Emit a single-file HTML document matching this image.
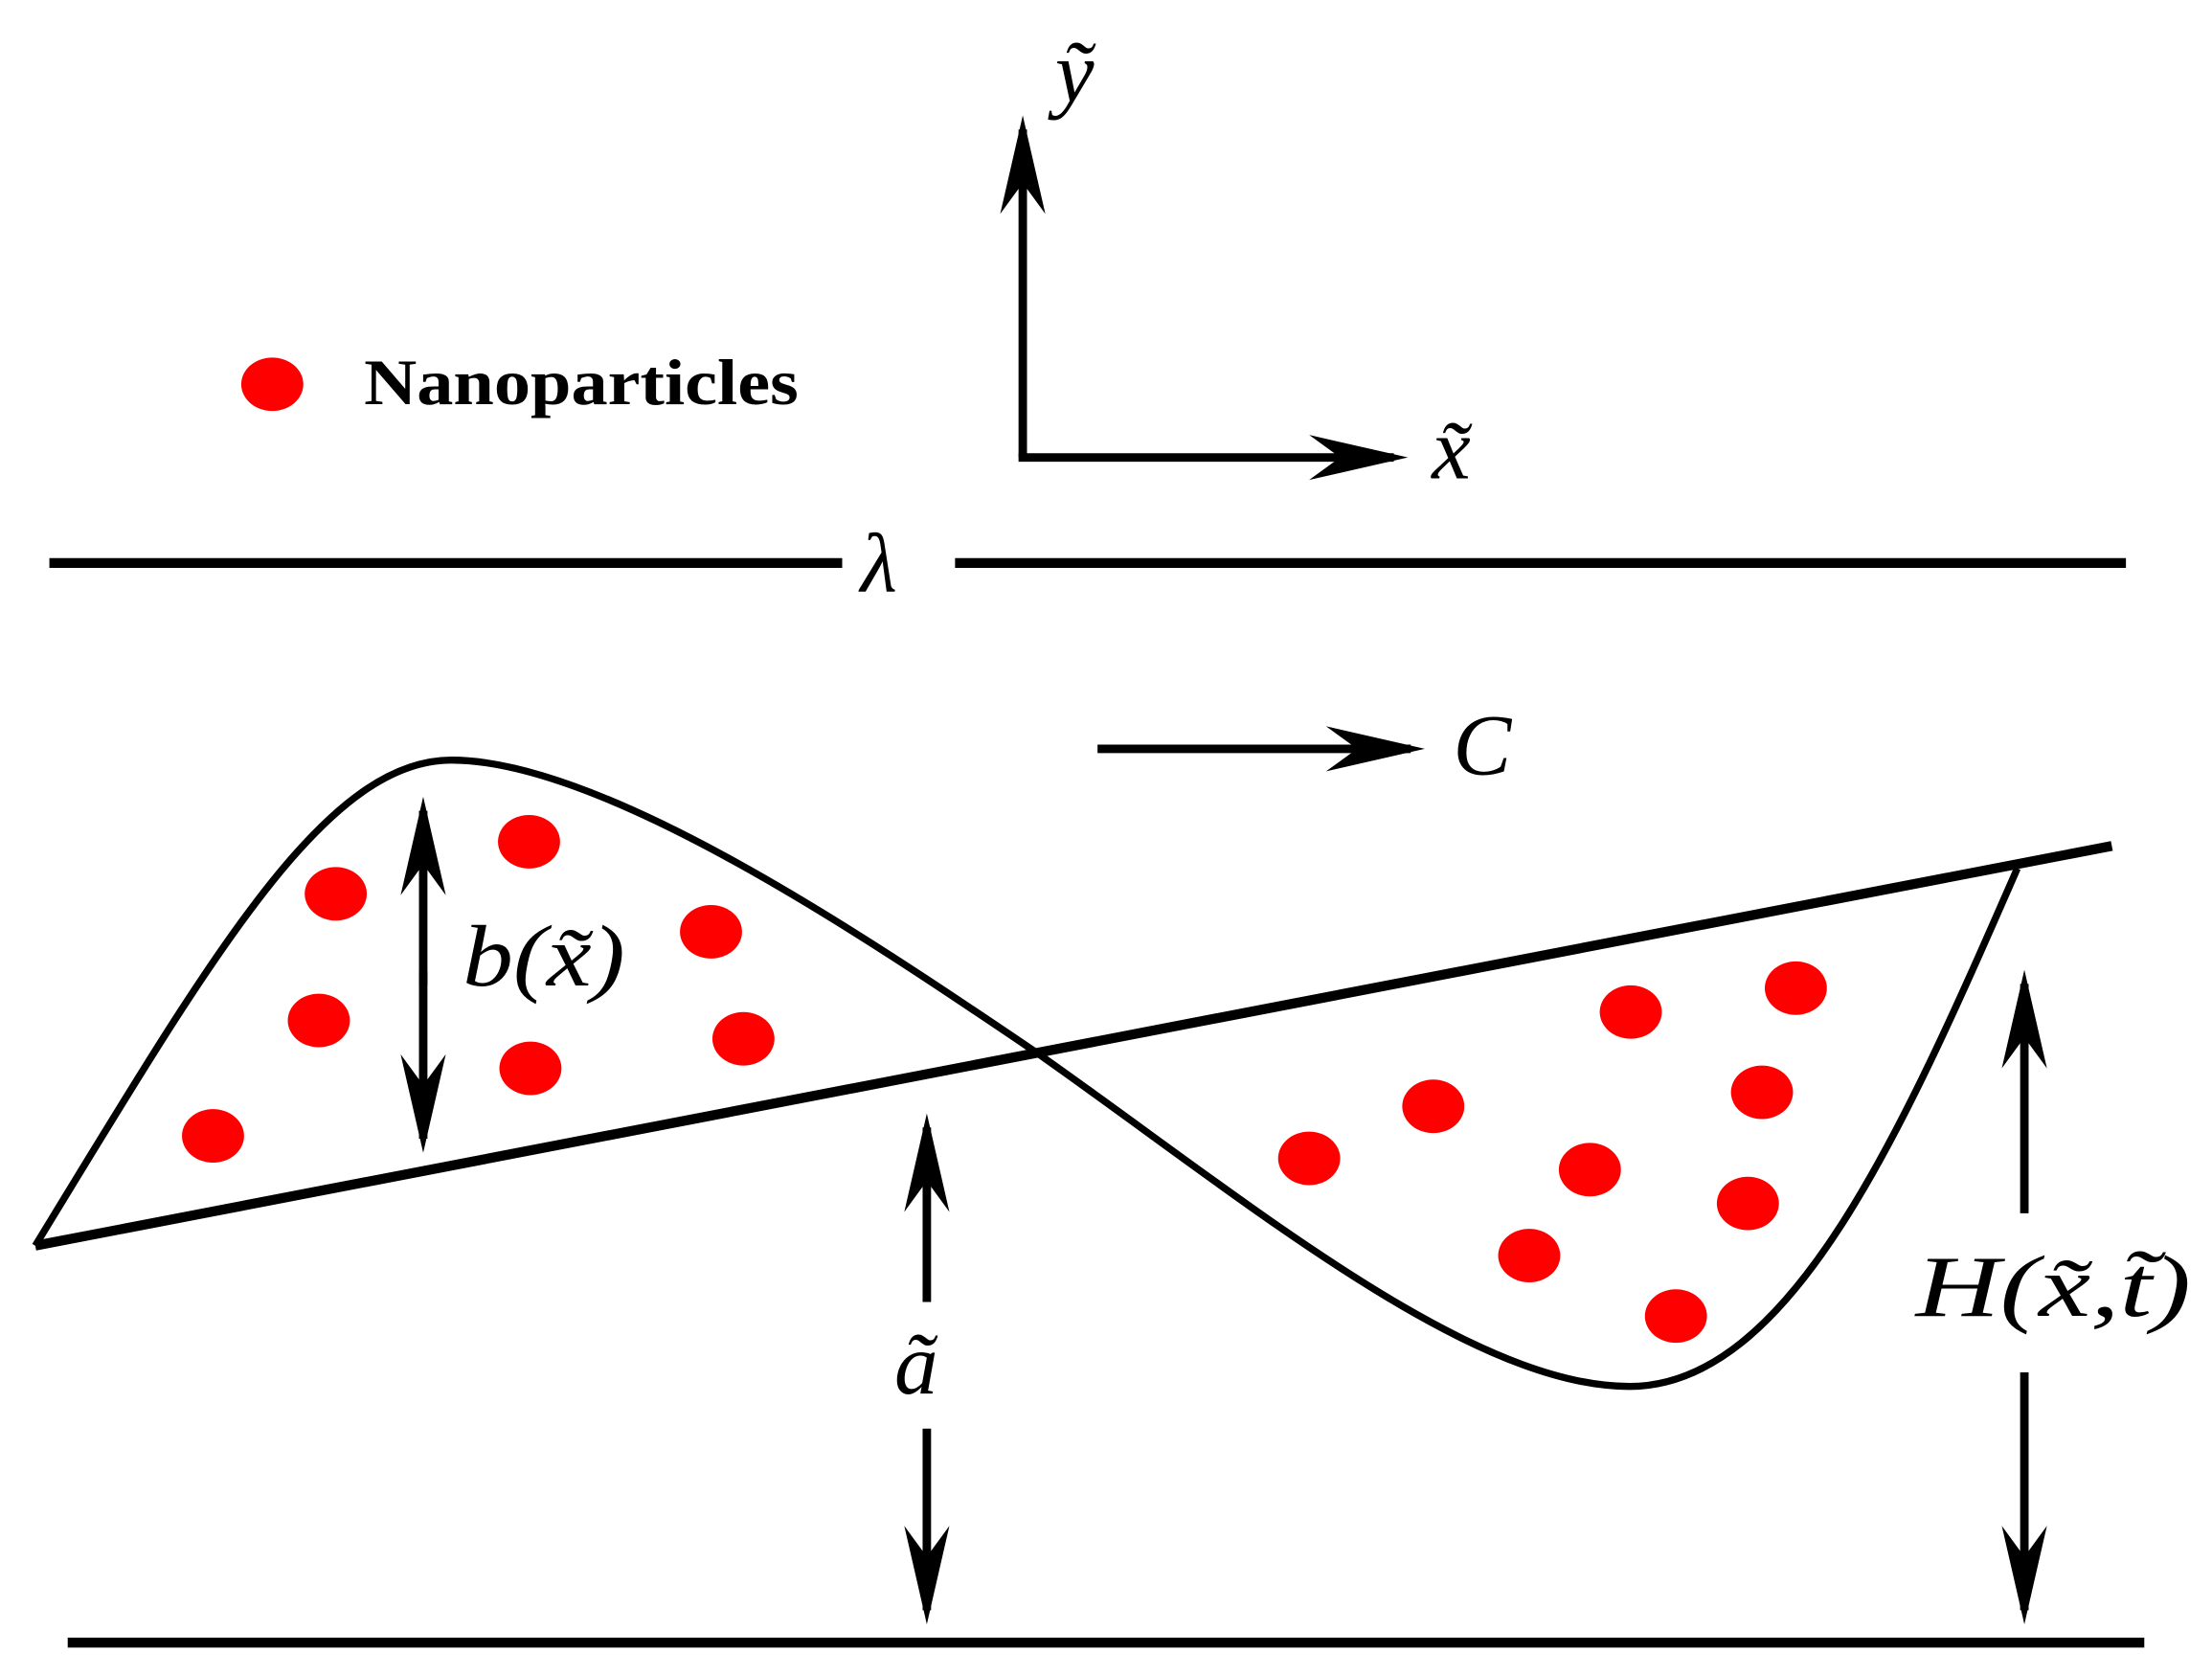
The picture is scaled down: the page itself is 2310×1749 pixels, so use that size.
<!DOCTYPE html>
<html><head><meta charset="utf-8"><style>html,body{margin:0;padding:0;background:#fff}svg{display:block}</style></head>
<body>
<svg width="2310" height="1749" viewBox="0 0 1568 1190" preserveAspectRatio="none" xmlns="http://www.w3.org/2000/svg">
<defs>
<marker id="ahb" viewBox="0 0 70 36" refX="60" refY="18" markerWidth="70" markerHeight="36" markerUnits="userSpaceOnUse" orient="auto">
<path d="M0,2 L70,18 L0,34 L22,18 Z" fill="#000"/>
</marker>
</defs>
<g stroke="#000" fill="none">
<line x1="725" y1="325" x2="725" y2="92" stroke-width="6" marker-end="url(#ahb)"/>
<line x1="722" y1="325" x2="988" y2="325" stroke-width="6" marker-end="url(#ahb)"/>
<line x1="35" y1="400" x2="597" y2="400" stroke-width="7"/>
<line x1="677" y1="400" x2="1507" y2="400" stroke-width="7"/>
<line x1="778" y1="532" x2="1000" y2="532" stroke-width="6" marker-end="url(#ahb)"/>
<path d="M25,885 C150,680 230,540 320,540 C430,540 620,670 735,748 C880,850 1040,985 1155,985 C1270,985 1350,800 1430,617" stroke-width="5"/>
<line x1="25" y1="885" x2="1497" y2="601" stroke-width="7"/>
<line x1="48" y1="1167" x2="1520" y2="1167" stroke-width="7"/>
<line x1="300" y1="700" x2="300" y2="576" stroke-width="6" marker-end="url(#ahb)"/>
<line x1="300" y1="690" x2="300" y2="809" stroke-width="6" marker-end="url(#ahb)"/>
<line x1="657" y1="925" x2="657" y2="801" stroke-width="6" marker-end="url(#ahb)"/>
<line x1="657" y1="1015" x2="657" y2="1144" stroke-width="6" marker-end="url(#ahb)"/>
<line x1="1435" y1="862" x2="1435" y2="699" stroke-width="6" marker-end="url(#ahb)"/>
<line x1="1435" y1="975" x2="1435" y2="1144" stroke-width="6" marker-end="url(#ahb)"/>
</g>
<g fill="#f00">
<ellipse cx="193" cy="273" rx="22" ry="19"/>
<ellipse cx="238" cy="635" rx="22" ry="19"/><ellipse cx="375" cy="598" rx="22" ry="19"/><ellipse cx="504" cy="662" rx="22" ry="19"/>
<ellipse cx="226" cy="725" rx="22" ry="19"/><ellipse cx="376" cy="759" rx="22" ry="19"/><ellipse cx="527" cy="738" rx="22" ry="19"/>
<ellipse cx="151" cy="807" rx="22" ry="19"/>
<ellipse cx="928" cy="823" rx="22" ry="19"/><ellipse cx="1016" cy="786" rx="22" ry="19"/><ellipse cx="1156" cy="719" rx="22" ry="19"/>
<ellipse cx="1273" cy="702" rx="22" ry="19"/><ellipse cx="1249" cy="776" rx="22" ry="19"/><ellipse cx="1127" cy="831" rx="22" ry="19"/>
<ellipse cx="1239" cy="855" rx="22" ry="19"/><ellipse cx="1084" cy="892" rx="22" ry="19"/><ellipse cx="1188" cy="935" rx="22" ry="19"/>
</g>
<g font-family="Liberation Serif, serif" fill="#000">
<text x="258" y="287" font-size="46" font-weight="bold" textLength="308" lengthAdjust="spacingAndGlyphs">Nanoparticles</text>
<text x="748" y="72" font-size="62" font-style="italic">ỹ</text>
<text x="1015" y="340" font-size="62" font-style="italic">x̃</text>
<text x="610" y="420" font-size="60" font-style="italic">λ</text>
<text x="1030" y="550" font-size="62" font-style="italic">C</text>
<text x="328" y="700" font-size="62" font-style="italic" textLength="115" lengthAdjust="spacingAndGlyphs">b(x̃)</text>
<text x="634" y="990" font-size="62" font-style="italic">ã</text>
<text x="1358" y="935" font-size="62" font-style="italic" textLength="195" lengthAdjust="spacingAndGlyphs">H(x̃,t̃)</text>
</g>
</svg>
</body></html>
